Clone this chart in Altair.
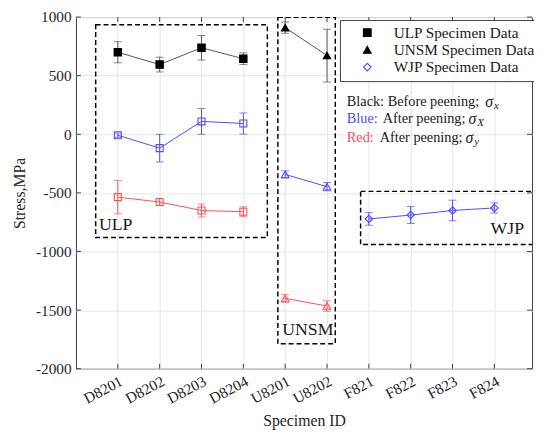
import altair as alt
import pandas as pd

# ---------------- data ----------------
ids = ["D8201", "D8202", "D8203", "D8204", "U8201", "U8202", "F821", "F822", "F823", "F824"]
groups = ["ULP Specimen Data"] * 4 + ["UNSM Specimen Data"] * 2 + ["WJP Specimen Data"] * 4

black_vals = [700, 595, 738, 645, 910, 672]          # D8201..U8202
black_err = [90, 63, 105, 50, 48, 225]

blue_vals = [-8, -118, 110, 92, -342, -447, -722, -689, -650, -628]   # all ids
blue_err = [18, 118, 110, 90, 30, 35, 54, 72, 88, 43]

red_vals = [-536, -578, -650, -661, -1400, -1465]    # D8201..U8202
red_err = [143, 30, 55, 42, 32, 45]

y_ticks = [-2000, -1500, -1000, -500, 0, 500, 1000]

# dashed group boxes (x in category-index units, y in MPa)
box_names = ["ULP", "UNSM", "WJP"]
box_x1 = [0.471, 4.826, 6.803]
box_x2 = [4.574, 6.198, 12.0]
box_y1 = [-880, -1787, -941]
box_y2 = [935, 998, -487]
box_lx = [0.55, 4.93, 9.91]
box_ly = [-773, -1668, -807]

BLUE = "#4d4dff"
RED = "#ff5050"
SERIF = "Liberation Serif"
TXT = "#262626"
W, H = 463, 357

rows = []
def add(series, vals, errs):
    for i, (v, e) in enumerate(zip(vals, errs)):
        rows.append(dict(idx=i + 1, id=ids[i], group=groups[i], series=series,
                         value=v, lo=v - e, hi=v + e))
add("black", black_vals, black_err)
add("blue", blue_vals, blue_err)
add("red", red_vals, red_err)
df = pd.DataFrame(rows)

xscale = alt.Scale(domain=[0, 10.9], nice=False, zero=False)
yscale = alt.Scale(domain=[-2000, 1000], nice=False, zero=False)

label_arr = "[" + ",".join(["''"] + ["'%s'" % s for s in ids]) + "]"
xaxis = alt.Axis(values=list(range(1, 11)), labelExpr=label_arr + "[datum.value]",
                 labelAngle=-28, labelAlign="right", labelBaseline="top", labelOverlap=False,
                 labelPadding=5, title="Specimen ID", titlePadding=6)
yaxis = alt.Axis(values=y_ticks, labelExpr="datum.value + ''", labelOverlap=False,
                 labelPadding=5, title="Stress,MPa", titlePadding=8)

def X(f="idx"):
    return alt.X(f, type="quantitative", scale=xscale, axis=xaxis)
def Y(f="value"):
    return alt.Y(f, type="quantitative", scale=yscale, axis=yaxis)

base = alt.Chart(df)

# inward tick marks (MATLAB style)
xt = pd.DataFrame({"idx": list(range(1, 11))})
yt = pd.DataFrame({"value": y_ticks})
tick_col = "#404040"
ticks = alt.layer(
    alt.Chart(xt).mark_rule(color=tick_col).encode(x=X(), y=alt.value(0), y2=alt.value(5)),
    alt.Chart(xt).mark_rule(color=tick_col).encode(x=X(), y=alt.value(H), y2=alt.value(H - 5)),
    alt.Chart(yt).mark_rule(color=tick_col).encode(y=Y(), x=alt.value(0), x2=alt.value(5)),
    alt.Chart(yt).mark_rule(color=tick_col).encode(y=Y(), x=alt.value(W), x2=alt.value(W - 5)),
)

boxes_df = pd.DataFrame(dict(name=box_names, x1=box_x1, x2=box_x2, y1=box_y1, y2=box_y2,
                             lx=box_lx, ly=box_ly))
boxes = alt.Chart(boxes_df).mark_rect(fill=None, fillOpacity=0, stroke="black", strokeWidth=1.5,
                                      strokeDash=[5, 3], clip=True).encode(
    x=X("x1"), x2="x2", y=Y("y1"), y2="y2")
box_labels = alt.Chart(boxes_df).mark_text(font=SERIF, fontSize=18, align="left",
                                           baseline="middle", color="#1a1a1a").encode(
    x=X("lx"), y=Y("ly"), text="name")

def series_layers(series, line_color, err_color):
    d = base.transform_filter(alt.datum.series == series)
    line = d.mark_line(color=line_color, strokeWidth=1).encode(x=X(), y=Y(), detail="group")
    err = d.mark_rule(color=err_color, strokeWidth=1).encode(x=X(), y=Y("lo"), y2="hi")
    cap_lo = d.mark_tick(color=err_color, orient="horizontal", size=8, thickness=1).encode(x=X(), y=Y("lo"))
    cap_hi = d.mark_tick(color=err_color, orient="horizontal", size=8, thickness=1).encode(x=X(), y=Y("hi"))
    return [line, err, cap_lo, cap_hi]

layers = []
layers += series_layers("black", "#555555", "#555555")
layers += series_layers("blue", BLUE, BLUE)
layers += series_layers("red", RED, RED)

# open markers (not in legend)
def open_pts(series, group, shape, color, size):
    return base.transform_filter(
        (alt.datum.series == series) & (alt.datum.group == group)
    ).mark_point(shape=shape, filled=False, stroke=color, strokeWidth=1.1, size=size, opacity=1).encode(
        x=X(), y=Y())

layers += [
    open_pts("blue", "ULP Specimen Data", "square", BLUE, 50),
    open_pts("red", "ULP Specimen Data", "square", RED, 50),
    open_pts("blue", "UNSM Specimen Data", "triangle-up", BLUE, 60),
    open_pts("red", "UNSM Specimen Data", "triangle-up", RED, 60),
]

gdom = ["ULP Specimen Data", "UNSM Specimen Data", "WJP Specimen Data"]
legend = alt.Legend(title=None, orient="none", legendX=268, legendY=3,
                    strokeColor="#404040", fillColor="white", padding=5,
                    symbolOffset=15, labelOffset=19, rowPadding=0.5,
                    labelFont=SERIF, labelFontSize=15.5, labelColor="#1a1a1a",
                    symbolSize=60, symbolStrokeWidth=1.2)
legend_pts = base.transform_filter(
    ((alt.datum.series == "black") | (alt.datum.group == "WJP Specimen Data"))
).mark_point(opacity=1, strokeWidth=1.2, size=55).encode(
    x=X(), y=Y(),
    shape=alt.Shape("group:N", scale=alt.Scale(domain=gdom, range=["square", "triangle-up", "diamond"]),
                    legend=legend),
    fill=alt.Fill("group:N", scale=alt.Scale(domain=gdom, range=["black", "black", "transparent"]),
                  legend=legend),
    stroke=alt.Stroke("group:N", scale=alt.Scale(domain=gdom, range=["black", "black", BLUE]),
                      legend=legend),
)
layers.append(legend_pts)

# annotation text (x in category-index units, y in MPa)
ann_text = ["Black: Before peening;", "Blue:", "After peening;", "Red:", "After peening;"]
ann_x = [6.474, 6.474, 7.33, 6.474, 7.26]
ann_y = [277, 126, 126, -34, -34]
ann_color = ["#1a1a1a", BLUE, "#1a1a1a", RED, "#1a1a1a"]
ann = pd.DataFrame(dict(t=ann_text, x=ann_x, y=ann_y, c=ann_color))
ann_layer = alt.Chart(ann).mark_text(font=SERIF, fontSize=14.5, align="left", baseline="middle").encode(
    x=X("x"), y=Y("y"), text="t", color=alt.Color("c:N", scale=None))

sig_sub = ["x", "X", "y"]
sig_x = [9.78, 9.38, 9.31]
sig_y = [277, 126, -34]
sig = pd.DataFrame(dict(t=["σ"] * 3, s=sig_sub, x=sig_x, y=sig_y))
sig_layer = alt.Chart(sig).mark_text(font=SERIF, fontSize=16, fontStyle="italic", align="left",
                                     baseline="middle", color="#1a1a1a").encode(
    x=X("x"), y=Y("y"), text="t")
sub_layer = alt.Chart(sig).mark_text(font=SERIF, fontSize=11, fontStyle="italic", align="left",
                                     baseline="middle", color="#1a1a1a", dx=9, dy=4).encode(
    x=X("x"), y=Y("y"), text="s")

chart = alt.layer(ticks, boxes, *layers, box_labels, ann_layer, sig_layer, sub_layer).properties(
    width=W, height=H,
    autosize=alt.AutoSizeParams(type="none"),
    padding={"left": 69, "top": 6, "right": 2, "bottom": 60},
).configure(font=SERIF).configure_view(stroke="#404040", strokeWidth=1).configure_axis(
    labelFont=SERIF, labelFontSize=15.5, labelColor=TXT,
    titleFont=SERIF, titleFontSize=16, titleFontWeight="normal", titleColor=TXT,
    ticks=False, domain=False, grid=True, gridColor="#e6e6e6", gridWidth=1,
).configure_legend(labelFont=SERIF, labelFontSize=15.5)

chart.save("out.html", embed_options={"renderer": "svg", "actions": False})
